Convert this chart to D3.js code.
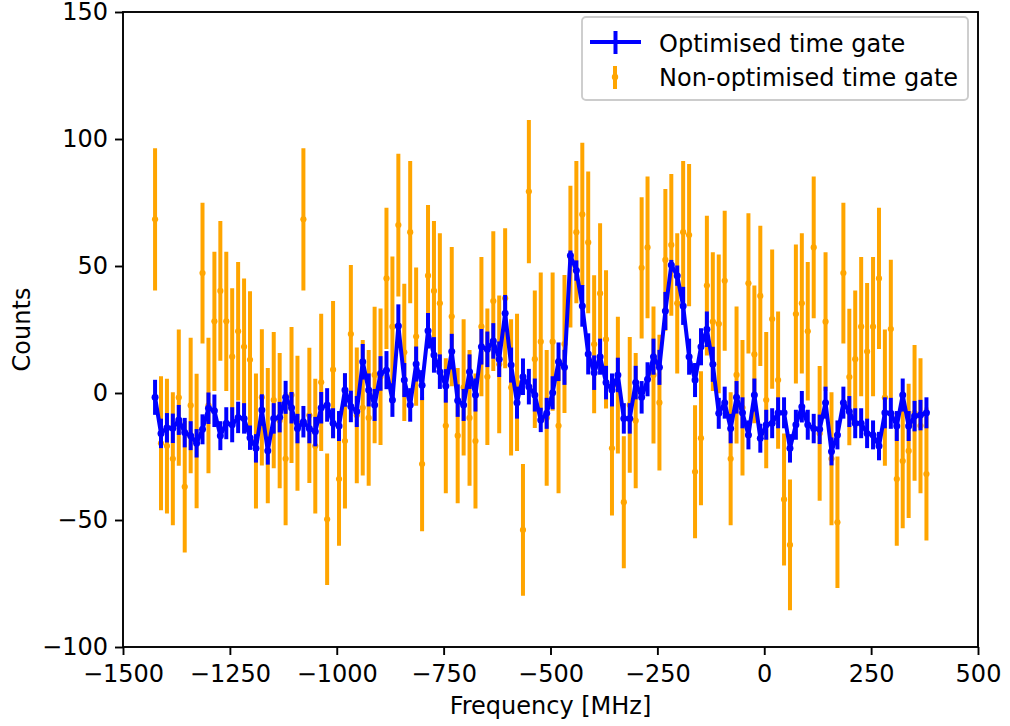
<!DOCTYPE html>
<html><head><meta charset="utf-8">
<script src="https://cdn.jsdelivr.net/npm/d3@7"></script>
<style>body{margin:0;background:#fff} text{font-family:"DejaVu Sans",sans-serif}</style>
</head><body><svg id="c" width="1010" height="726"></svg>
<script>
const frequency = [-1425.0,-1411.1,-1397.2,-1383.4,-1369.5,-1355.6,-1341.7,-1327.8,-1314.0,-1300.1,
-1286.2,-1272.3,-1258.4,-1244.6,-1230.7,-1216.8,-1202.9,-1189.0,-1175.2,-1161.3,
-1147.4,-1133.5,-1119.6,-1105.8,-1091.9,-1078.0,-1064.1,-1050.2,-1036.4,-1022.5,
-1008.6,-994.7,-980.8,-967.0,-953.1,-939.2,-925.3,-911.4,-897.6,-883.7,
-869.8,-855.9,-842.0,-828.2,-814.3,-800.4,-786.5,-772.6,-758.8,-744.9,
-731.0,-717.1,-703.2,-689.4,-675.5,-661.6,-647.7,-633.8,-620.0,-606.1,
-592.2,-578.3,-564.4,-550.6,-536.7,-522.8,-508.9,-495.0,-481.2,-467.3,
-453.4,-439.5,-425.6,-411.8,-397.9,-384.0,-370.1,-356.2,-342.4,-328.5,
-314.6,-300.7,-286.8,-273.0,-259.1,-245.2,-231.3,-217.4,-203.6,-189.7,
-175.8,-161.9,-148.0,-134.2,-120.3,-106.4,-92.5,-78.6,-64.8,-50.9,
-37.0,-23.1,-9.2,4.6,18.5,32.4,46.3,60.2,74.0,87.9,
101.8,115.7,129.6,143.4,157.3,171.2,185.1,199.0,212.8,226.7,
240.6,254.5,268.4,282.2,296.1,310.0,323.9,337.8,351.6,365.5,379.4];

const optimisedCounts = [-1.7,-15.9,-13.7,-13.9,-10.6,-15.6,-16.8,-19.8,-14.3,-6.0,
-7.0,-16.8,-11.9,-12.5,-9.6,-10.0,-17.6,-21.8,-6.7,-22.7,
-10.0,-9.5,-1.7,-5.8,-14.0,-11.3,-14.0,-15.2,-5.8,-4.7,
-11.9,-13.0,1.2,-5.3,-7.3,12.3,1.2,-4.7,7.7,9.0,
-2.8,26.4,5.1,-4.7,11.4,3.1,24.5,15.0,8.4,2.8,
16.3,-3.0,-4.7,8.4,-0.8,18.2,17.2,20.5,13.3,31.4,
11.0,-3.8,6.4,2.5,-0.8,-10.6,-8.0,0.1,12.3,10.1,
54.1,48.2,34.3,15.4,8.0,14.3,4.1,1.2,7.1,-10.0,
-10.0,4.1,-1.7,5.4,14.3,10.1,32.3,50.4,46.2,34.3,
14.3,5.1,18.2,25.1,11.3,-8.0,-3.8,-14.0,-1.7,-7.8,
-16.5,-0.8,-17.8,-12.5,-11.9,-7.8,-7.8,-21.8,-12.5,-5.4,
-12.5,-14.0,-14.3,-3.8,-23.0,-16.5,-3.8,-7.3,-11.9,-11.9,
-15.9,-16.5,-20.9,-7.8,-8.0,-13.0,-0.8,-13.0,-9.1,-8.7,-7.8];

const optimisedErrors = [6.9,5.8,5.8,5.8,5.9,5.8,5.7,5.6,5.9,6.2,
6.4,5.7,6.3,6.9,6.2,6.0,4.8,5.6,6.2,5.5,
6.0,6.0,6.5,6.2,5.8,6.2,5.8,5.8,6.2,6.6,
5.9,5.9,6.6,6.2,6.1,7.0,6.5,6.3,6.8,7.5,
6.6,8.5,6.7,6.6,6.9,5.9,7.0,7.0,6.8,6.6,
7.0,6.4,6.3,6.8,6.5,7.0,7.0,7.0,7.0,7.2,
6.9,6.3,7.2,7.0,6.5,4.8,6.1,6.5,7.6,6.9,
2.0,4.0,8.2,8.1,6.8,7.1,6.6,6.5,6.8,6.0,
6.0,6.6,6.4,6.7,7.1,6.9,7.5,2.0,4.0,7.5,
7.1,6.7,7.3,7.0,6.9,6.1,6.3,5.8,6.4,6.1,
5.7,6.5,5.7,5.9,5.9,6.1,6.1,5.6,5.9,6.2,
5.9,5.8,5.8,6.3,5.5,5.7,6.3,6.1,5.9,5.9,
5.8,5.7,5.6,6.1,6.1,5.9,6.5,5.9,6.0,6.0,6.1];

const nonOptimisedCounts = [68.4,-19.8,-20.9,-25.9,-1.8,-36.9,-4.9,-18.9,47.2,-4.9,
28.2,40.2,28.2,14.3,24.3,18.2,13.1,-18.9,-1.7,-16.8,
-2.8,-10.9,-25.9,-0.8,-11.9,68.4,-8.8,-20.9,4.2,-49.7,
9.2,-33.9,-18.9,23.2,-8.8,-5.8,-9.8,7.1,6.4,45.1,
26.1,66.1,16.0,63.3,22.2,-28.0,46.2,40.2,35.3,-12.9,
30.1,-16.8,2.2,-9.8,-18.9,26.1,6.4,36.2,11.3,37.3,
2.2,4.2,-53.9,79.3,13.3,20.2,-9.8,20.2,-12.9,19.3,
53.7,63.3,70.3,59.3,19.2,39.2,21.1,-21.8,3.1,-43.0,
-4.7,-10.9,49.3,57.3,7.1,-3.8,52.4,58.3,35.3,63.3,
62.2,-31.0,-17.8,42.3,28.1,27.2,44.2,-25.9,7.1,-5.8,
43.2,15.2,38.2,-2.8,29.1,5.1,-41.9,-59.8,31.1,35.3,
24.3,57.3,-15.9,28.1,-25.9,-50.9,47.2,6.3,13.3,26.1,
16.3,26.1,45.1,-1.8,25.2,-33.9,-26.8,-22.8,-7.8,-12.9,-31.9];

const nonOptimisedErrors = [28.0,26.4,26.5,26.2,26.8,25.9,26.7,26.5,27.7,26.7,
27.4,27.5,27.4,26.9,27.3,26.9,27.0,26.6,26.8,26.6,
26.8,26.6,26.2,26.8,26.6,28.0,26.6,26.5,27.0,25.9,
27.0,26.2,26.6,27.2,26.7,26.7,26.7,26.9,26.9,27.8,
27.6,28.1,27.0,28.0,27.2,26.4,27.8,27.5,27.6,26.6,
27.4,26.6,26.8,26.7,26.6,27.4,26.9,27.5,27.1,27.6,
26.8,27.0,25.9,28.2,27.1,27.2,26.7,27.2,26.6,27.2,
27.9,28.0,28.2,27.9,27.2,27.6,27.2,26.4,26.9,26.0,
26.7,26.6,27.8,27.9,27.0,26.7,27.9,27.9,27.6,28.0,
28.0,26.2,26.4,27.5,27.3,27.3,27.6,26.2,27.0,26.7,
27.6,27.1,27.6,26.8,27.4,27.0,26.0,25.7,27.4,27.6,
27.3,27.9,26.5,27.3,26.2,25.9,27.7,26.9,27.1,27.4,
27.0,27.4,27.8,26.8,27.3,26.2,26.4,26.4,26.7,26.6,26.2];

const xTicks = [-1500,-1250,-1000,-750,-500,-250,0,250,500];
const yTicks = [-100,-50,0,50,100,150];
const seriesNames = ["Optimised time gate","Non-optimised time gate"];
const xLabel = "Frequency [MHz]";
const yLabel = "Counts";

const m = {l:123, t:12, r:978, b:647};
const svg = d3.select("#c");
const x = d3.scaleLinear().domain([-1500,500]).range([m.l,m.r]);
const y = d3.scaleLinear().domain([-100,150]).range([m.b,m.t]);
const FS = 24;
const BLUE = "#0000ff", ORANGE = "#ffa500";

const opt = frequency.map((f,i)=>({f, v:optimisedCounts[i], e:optimisedErrors[i]}));
const non = frequency.map((f,i)=>({f, v:nonOptimisedCounts[i], e:nonOptimisedErrors[i]}));

// Non-optimised
const gN = svg.append("g");
gN.selectAll("line").data(non).join("line")
  .attr("x1",d=>x(d.f)).attr("x2",d=>x(d.f))
  .attr("y1",d=>y(d.v-d.e)).attr("y2",d=>y(d.v+d.e))
  .attr("stroke",ORANGE).attr("stroke-width",4);
gN.selectAll("circle").data(non).join("circle")
  .attr("cx",d=>x(d.f)).attr("cy",d=>y(d.v)).attr("r",3.1).attr("fill",ORANGE);

// Optimised
const gO = svg.append("g");
gO.selectAll("line").data(opt).join("line")
  .attr("x1",d=>x(d.f)).attr("x2",d=>x(d.f))
  .attr("y1",d=>y(d.v-d.e)).attr("y2",d=>y(d.v+d.e))
  .attr("stroke",BLUE).attr("stroke-width",4);
gO.append("path").datum(opt)
  .attr("d", d3.line().x(d=>x(d.f)).y(d=>y(d.v)))
  .attr("fill","none").attr("stroke",BLUE).attr("stroke-width",4).attr("stroke-linejoin","round");
gO.selectAll("circle").data(opt).join("circle")
  .attr("cx",d=>x(d.f)).attr("cy",d=>y(d.v)).attr("r",3.5).attr("fill",BLUE);

// Axes
const fmt = d3.format("d");
const xa = svg.append("g").attr("transform",`translate(0,${m.b})`)
  .call(d3.axisBottom(x).tickValues(xTicks).tickFormat(fmt).tickSize(8).tickPadding(10));
const ya = svg.append("g").attr("transform",`translate(${m.l},0)`)
  .call(d3.axisLeft(y).tickValues(yTicks).tickFormat(fmt).tickSize(8).tickPadding(7));
[xa,ya].forEach(a=>{
  a.select(".domain").remove();
  a.selectAll(".tick line").attr("stroke","#000").attr("stroke-width",1.9);
  a.selectAll(".tick text").attr("font-size",FS).attr("font-family","DejaVu Sans").attr("fill","#000");
});
svg.append("rect").attr("x",m.l).attr("y",m.t).attr("width",m.r-m.l).attr("height",m.b-m.t)
  .attr("fill","none").attr("stroke","#000").attr("stroke-width",1.9);

svg.append("text").attr("x",(m.l+m.r)/2).attr("y",714).attr("text-anchor","middle")
  .attr("font-size",FS).text(xLabel);
svg.append("text").attr("transform",`translate(30,${(m.t+m.b)/2}) rotate(-90)`).attr("text-anchor","middle")
  .attr("font-size",FS).text(yLabel);

// Legend
const lg = svg.append("g");
lg.append("rect").attr("x",582).attr("y",17).attr("width",386).attr("height",83).attr("rx",4)
  .attr("fill","#fff").attr("fill-opacity",0.8).attr("stroke","#cccccc").attr("stroke-width",1.9);
lg.append("line").attr("x1",590).attr("x2",641).attr("y1",42).attr("y2",42).attr("stroke",BLUE).attr("stroke-width",4);
lg.append("line").attr("x1",615.5).attr("x2",615.5).attr("y1",31).attr("y2",54).attr("stroke",BLUE).attr("stroke-width",4);
lg.append("line").attr("x1",615).attr("x2",615).attr("y1",66).attr("y2",89).attr("stroke",ORANGE).attr("stroke-width",4);
lg.append("circle").attr("cx",615).attr("cy",77).attr("r",3.2).attr("fill",ORANGE);
lg.append("text").attr("x",659).attr("y",51.5).attr("font-size",FS).text(seriesNames[0]);
lg.append("text").attr("x",659).attr("y",85.5).attr("font-size",FS).text(seriesNames[1]);
</script></body></html>
